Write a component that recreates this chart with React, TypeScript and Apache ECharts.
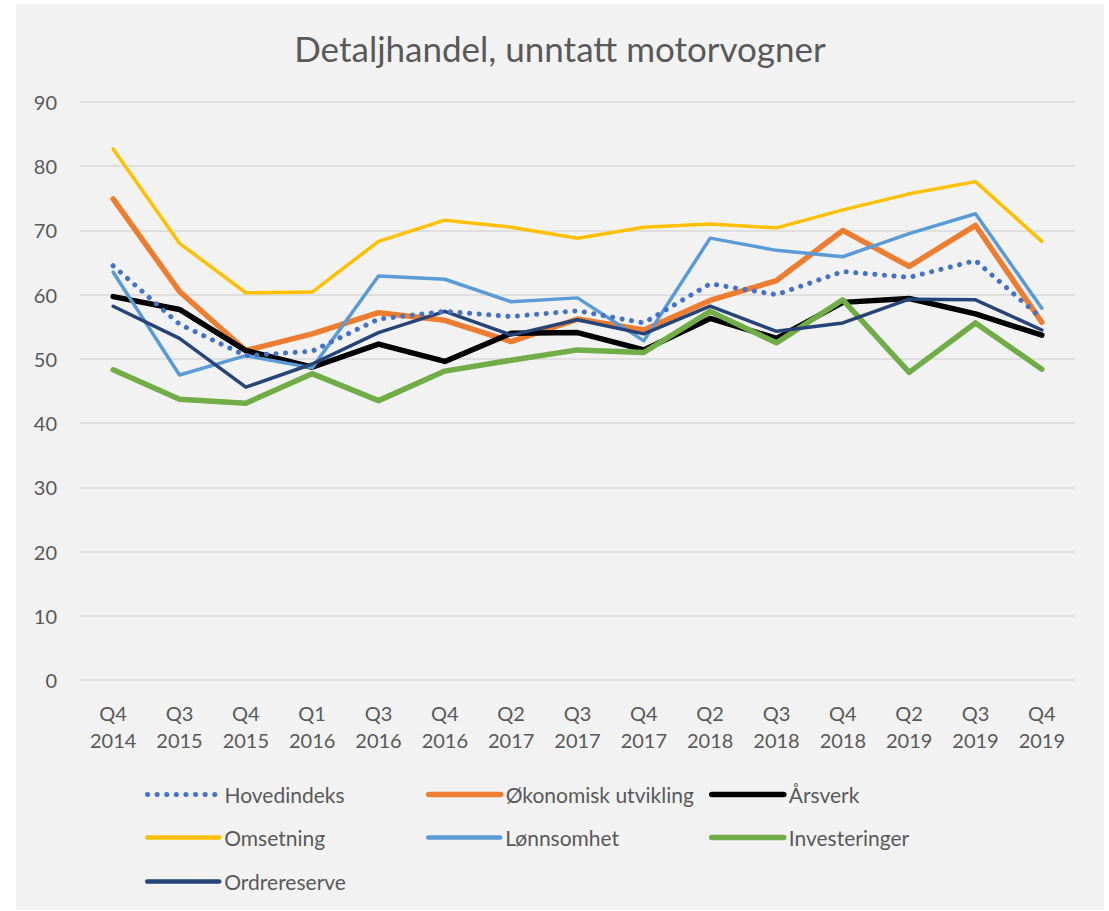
import React, { useEffect, useRef } from "react";
import * as echarts from "echarts";

const title = "Detaljhandel, unntatt motorvogner";

const categories = [
  "Q4 2014", "Q3 2015", "Q4 2015", "Q1 2016", "Q3 2016", "Q4 2016", "Q2 2017", "Q3 2017",
  "Q4 2017", "Q2 2018", "Q3 2018", "Q4 2018", "Q2 2019", "Q3 2019", "Q4 2019",
];

const hovedindeks = [64.5, 55.4, 50.5, 51.2, 56.2, 57.4, 56.6, 57.5, 55.6, 61.7, 60.0, 63.6, 62.7, 65.3, 56.3];
const okonomisk = [74.9, 60.5, 51.3, 53.9, 57.2, 56.0, 52.7, 56.2, 54.5, 59.1, 62.2, 70.0, 64.4, 70.8, 55.7];
const arsverk = [59.7, 57.7, 51.3, 48.7, 52.3, 49.6, 54.0, 54.1, 51.4, 56.3, 53.2, 58.8, 59.4, 57.0, 53.7];
const omsetning = [82.7, 68.0, 60.3, 60.4, 68.3, 71.6, 70.5, 68.8, 70.5, 71.0, 70.4, 73.2, 75.7, 77.6, 68.3];
const lonnsomhet = [63.5, 47.5, 50.5, 48.6, 62.9, 62.4, 58.9, 59.5, 52.8, 68.8, 66.9, 65.9, 69.5, 72.6, 57.9];
const investeringer = [48.3, 43.7, 43.1, 47.7, 43.5, 48.1, 49.8, 51.4, 51.0, 57.4, 52.5, 59.2, 47.9, 55.6, 48.4];
const ordrereserve = [58.2, 53.2, 45.6, 49.2, 54.1, 57.4, 53.7, 56.1, 53.9, 58.2, 54.3, 55.6, 59.3, 59.2, 54.5];

const FONT = "Lato";
const GREY = "#595959";
const DOT: number[] = [0.1, 9.5];

export default function App() {
  const ref = useRef<HTMLDivElement>(null);
  useEffect(() => {
    if (!ref.current) return;
    const chart = echarts.init(ref.current, undefined, { renderer: "svg" });

    const line = (name: string, data: number[], color: string, width: number, extra: any = {}) => ({
      name,
      type: "line",
      data,
      symbol: "none",
      smooth: false,
      lineStyle: { color, width, cap: "round", join: "round", ...extra },
      itemStyle: { color },
    });

    const legendPos: [string, number, number, number, any][] = [
      ["Hovedindeks", 129, 780, 5, DOT],
      ["Økonomisk utvikling", 410, 780, 5.5, "solid"],
      ["Årsverk", 693, 780, 5.5, "solid"],
      ["Omsetning", 129, 823, 4.5, "solid"],
      ["Lønnsomhet", 410, 823, 4.5, "solid"],
      ["Investeringer", 693, 823, 5.5, "solid"],
      ["Ordrereserve", 129, 867, 4.5, "solid"],
    ];

    chart.setOption({
      animation: false,
      backgroundColor: "#f2f2f2",
      title: {
        text: title,
        left: "center",
        top: 21,
        textStyle: { fontFamily: FONT, fontSize: 35, fontWeight: "normal", color: GREY },
      },
      legend: legendPos.map(([name, left, top, w, type]) => ({
        data: [name],
        left,
        top,
        itemWidth: 72,
        itemHeight: 14,
        padding: 0,
        itemStyle: { opacity: 0 },
        lineStyle: { width: w, type, cap: "round" },
        textStyle: { fontFamily: FONT, fontSize: 21, color: GREY },
      })),
      grid: { left: 64, right: 29, top: 98, bottom: 230, containLabel: false },
      xAxis: {
        type: "category",
        data: categories,
        boundaryGap: true,
        axisLine: { show: false },
        axisTick: { show: false },
        axisLabel: {
          interval: 0,
          margin: 19,
          fontFamily: FONT,
          fontSize: 20,
          lineHeight: 27,
          color: GREY,
          formatter: (v: string) => v.replace(" ", "\n"),
        },
      },
      yAxis: {
        type: "value",
        min: 0,
        max: 90,
        interval: 10,
        axisLine: { show: false },
        axisTick: { show: false },
        axisLabel: { margin: 23, fontFamily: FONT, fontSize: 20, color: GREY },
        splitLine: { lineStyle: { color: "#d9d9d9", width: 1.5 } },
      },
      series: [
        line("Økonomisk utvikling", okonomisk, "#ED7D31", 5.5),
        line("Årsverk", arsverk, "#000000", 5.5),
        line("Omsetning", omsetning, "#FFC000", 3.5),
        line("Lønnsomhet", lonnsomhet, "#5B9BD5", 3.5),
        line("Investeringer", investeringer, "#70AD47", 5.5),
        line("Ordrereserve", ordrereserve, "#264478", 3.5),
        line("Hovedindeks", hovedindeks, "#4472C4", 5, { type: DOT, cap: "round" }),
      ],
    });
    return () => chart.dispose();
  }, []);

  return (
    <div
      ref={ref}
      style={{ position: "absolute", left: 16, top: 4, width: 1088, height: 906, background: "#f2f2f2" }}
    />
  );
}
